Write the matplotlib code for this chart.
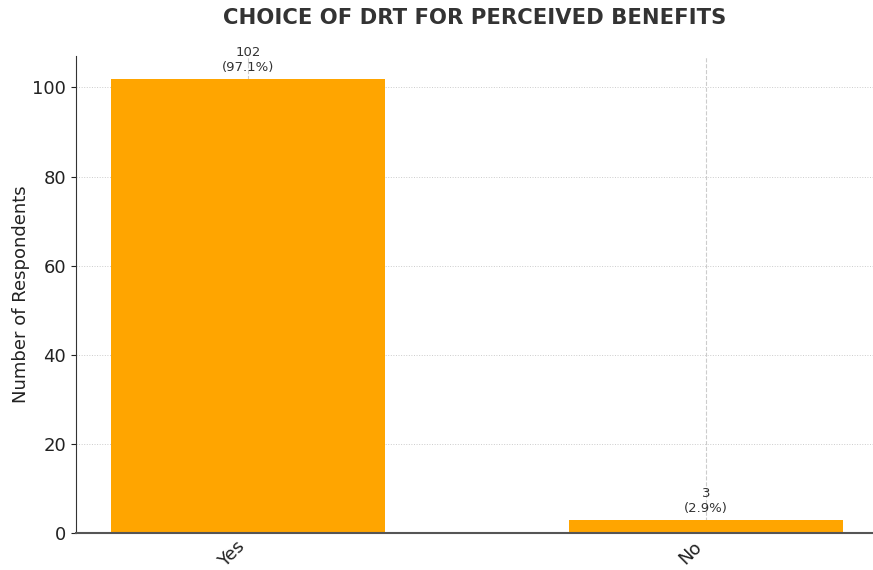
import matplotlib
matplotlib.use("Agg")
import matplotlib.pyplot as plt

categories = ["Yes", "No"]
counts = [102, 3]
percentages = [97.1, 2.9]

fig = plt.figure(figsize=(8.73, 5.70), dpi=100)
ax = fig.add_axes([0.087, 0.065, 0.913, 0.837])

x = list(range(len(categories)))
bars = ax.bar(x, counts, width=0.6, color="#FFA500", zorder=2)

for xi, c, p in zip(x, counts, percentages):
    ax.annotate(f"{c}\n({p}%)", (xi, c), xytext=(0, 3), textcoords="offset points",
                ha="center", va="bottom", fontsize=9.5, color="#333333", zorder=3)

ax.set_xlim(-0.376, 1.365)
ax.set_ylim(0, max(counts) * 1.05)
ax.set_xticks(x)
ax.set_xticklabels(categories, rotation=45, ha="right", fontsize=13, color="#222222")
ax.tick_params(axis="y", labelsize=13, colors="#222222")
ax.tick_params(axis="x", length=0)
ax.set_ylabel("Number of Respondents", fontsize=13, color="#222222", labelpad=2)
ax.set_title("CHOICE OF DRT FOR PERCEIVED BENEFITS", fontsize=15.2, fontweight="bold",
             color="#333333", pad=23)

ax.grid(axis="x", linestyle="--", color="#cccccc", linewidth=0.8, zorder=0)
ax.grid(axis="y", linestyle=":", color="#cccccc", linewidth=0.7, zorder=0)
ax.set_axisbelow(True)
for s in ("top", "right"):
    ax.spines[s].set_visible(False)
ax.spines["left"].set_color("#333333")
ax.spines["bottom"].set_color("#555555")
ax.spines["bottom"].set_linewidth(1.5)

fig.savefig("out.png", dpi=100)
